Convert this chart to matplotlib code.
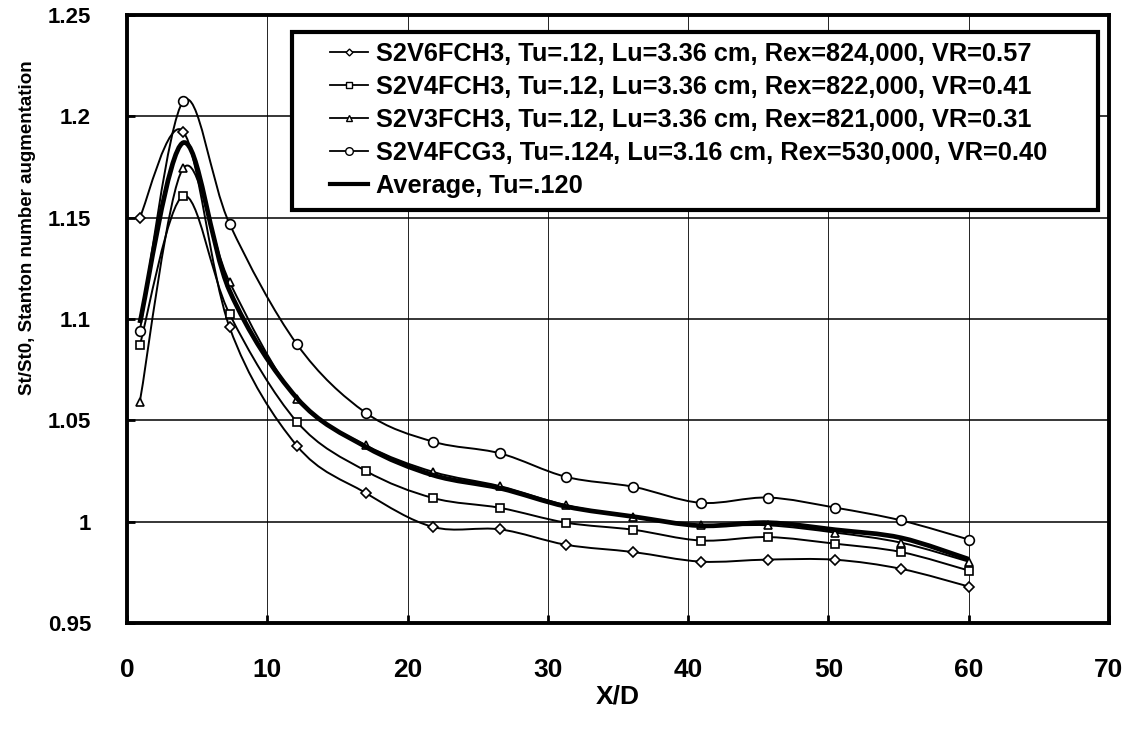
import numpy as np
import matplotlib
matplotlib.use("Agg")
import matplotlib.pyplot as plt
from matplotlib.path import Path
from matplotlib.patches import PathPatch, Rectangle
from matplotlib.lines import Line2D

# ---------------- data ----------------
x_d = [0.9, 4.0, 7.3, 12.1, 17.0, 21.8, 26.6, 31.3, 36.1, 40.9, 45.7, 50.5, 55.2, 60.0]

s2v6fch3 = [1.150, 1.1925, 1.096, 1.0375, 1.0142, 0.9974, 0.9962, 0.9886, 0.9850,
            0.9803, 0.9813, 0.9812, 0.9767, 0.9680]
s2v4fch3 = [1.087, 1.1607, 1.1025, 1.0493, 1.0251, 1.0117, 1.0068, 0.9995, 0.9960,
            0.9907, 0.9924, 0.9891, 0.9850, 0.9759]
s2v3fch3 = [1.059, 1.1744, 1.1183, 1.0605, 1.0378, 1.0246, 1.0175, 1.0081, 1.0023,
            0.9982, 0.9982, 0.9946, 0.9896, 0.9803]
s2v4fcg3 = [1.094, 1.2074, 1.1470, 1.0876, 1.0538, 1.0395, 1.0337, 1.0221, 1.0172,
            1.0093, 1.0119, 1.0069, 1.0006, 0.9912]
average = [1.098, 1.187, 1.114, 1.061, 1.037, 1.023, 1.0165, 1.0075, 1.0025,
           0.998, 0.9995, 0.996, 0.992, 0.9815]

labels = [
    "S2V6FCH3, Tu=.12, Lu=3.36 cm, Rex=824,000, VR=0.57",
    "S2V4FCH3, Tu=.12, Lu=3.36 cm, Rex=822,000, VR=0.41",
    "S2V3FCH3, Tu=.12, Lu=3.36 cm, Rex=821,000, VR=0.31",
    "S2V4FCG3, Tu=.124, Lu=3.16 cm, Rex=530,000, VR=0.40",
    "Average, Tu=.120",
]
xticks = [0, 10, 20, 30, 40, 50, 60, 70]
yticks = [0.95, 1.0, 1.05, 1.1, 1.15, 1.2, 1.25]
ytick_labels = ["0.95", "1", "1.05", "1.1", "1.15", "1.2", "1.25"]

FONT = "Liberation Sans"


def smooth_path(xs, ys):
    """Excel-like smoothed line (Catmull-Rom as cubic Bezier)."""
    pts = np.column_stack([xs, ys]).astype(float)
    n = len(pts)
    verts = [pts[0]]
    codes = [Path.MOVETO]
    for i in range(n - 1):
        p0 = pts[i - 1] if i > 0 else pts[i]
        p1 = pts[i]
        p2 = pts[i + 1]
        p3 = pts[i + 2] if i + 2 < n else pts[i + 1]
        c1 = p1 + (p2 - p0) / 6.0
        c2 = p2 - (p3 - p1) / 6.0
        verts += [c1, c2, p2]
        codes += [Path.CURVE4] * 3
    return Path(verts, codes)


fig = plt.figure(figsize=(11.35, 7.29), dpi=100)
ax = fig.add_axes([0.112, 0.1454, 0.865, 0.834])

ax.set_xlim(0, 70)
ax.set_ylim(0.95, 1.25)

# grid
for xv in xticks[1:-1]:
    ax.axvline(xv, color="black", lw=0.6, zorder=1)
for yv in yticks[1:-1]:
    ax.axhline(yv, color="black", lw=1.1, zorder=1)

series = [s2v6fch3, s2v4fch3, s2v3fch3, s2v4fcg3]
markers = ["D", "s", "^", "o"]
msizes = [5, 6, 6, 7]
handles = []
for ys, m, ms in zip(series, markers, msizes):
    ax.add_patch(PathPatch(smooth_path(x_d, ys), facecolor="none",
                           edgecolor="black", lw=1.4, zorder=3))
    ax.plot(x_d, ys, linestyle="none", marker=m, ms=ms, mfc="white",
            mec="black", mew=1.2, zorder=4)
    handles.append(Line2D([], [], color="black", lw=1.3, marker=m, ms=ms - 1.5,
                          mfc="white", mec="black", mew=1.0))

ax.add_patch(PathPatch(smooth_path(x_d, average), facecolor="none",
                       edgecolor="black", lw=3.4, zorder=5))
handles.append(Line2D([], [], color="black", lw=3.0))

# axes styling
for sp in ax.spines.values():
    sp.set_linewidth(2.8)
ax.set_xticks(xticks)
ax.set_yticks(yticks)
ax.set_yticklabels(ytick_labels)
ax.tick_params(axis="both", direction="in", length=6, width=2.0)
ax.tick_params(axis="x", pad=25)
ax.tick_params(axis="y", pad=26)
for t in ax.get_xticklabels():
    t.set_fontfamily(FONT)
    t.set_fontweight("bold")
    t.set_fontsize(19)
for t in ax.get_yticklabels():
    t.set_fontfamily(FONT)
    t.set_fontweight("bold")
    t.set_fontsize(16)

ax.set_xlabel("X/D", fontfamily=FONT, fontweight="bold", fontsize=19, labelpad=2)
ax.set_ylabel("St/St0, Stanton number augmentation", fontfamily=FONT,
              fontweight="bold", fontsize=13.5)
ax.yaxis.set_label_coords(-0.093, 0.65)

# legend frame (Excel style, drawn separately)
ax.add_patch(Rectangle((0.168, 0.679), 0.821, 0.293, transform=ax.transAxes,
                       facecolor="white", edgecolor="black", lw=3.0, zorder=9))
leg = ax.legend(handles, labels, loc="upper left", bbox_to_anchor=(0.2067, 0.956),
                frameon=False, handlelength=1.5, handletextpad=0.3,
                labelspacing=0.36, borderpad=0.0, borderaxespad=0.0,
                prop={"family": FONT, "weight": "bold", "size": 18.3})
leg.set_zorder(10)

fig.savefig("out.png", dpi=100, facecolor="white")
